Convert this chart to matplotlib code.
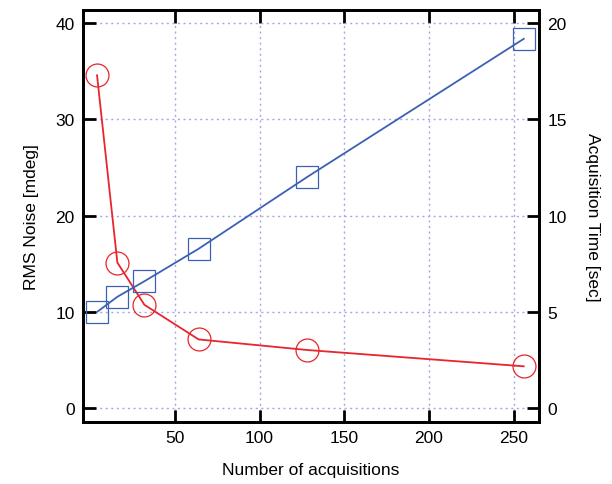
import numpy as np
import matplotlib.pyplot as plt

# Datos
acquisitions = [4, 16, 32, 64, 128, 256]
rms_noise = [34.6, 15.1, 10.7, 7.1, 6.0, 4.3]          # mdeg, eje izquierdo
acq_time = [4.98, 5.77, 6.58, 8.27, 12.0, 19.2]        # sec, eje derecho

plt.rcParams['font.family'] = ['Liberation Sans', 'DejaVu Sans']

red = '#e8242c'
blue = '#3d60b4'
grid_col = '#a8a8e0'

fig = plt.figure(figsize=(6.12, 4.85), dpi=100)
ax = fig.add_axes([0.1356, 0.1278, 0.7451, 0.8495])
ax2 = ax.twinx()

ax.plot(acquisitions, rms_noise, color=red, lw=1.3, marker='o', ms=16.5,
        mfc='none', mec=red, mew=0.9, zorder=3)
ax2.plot(acquisitions, acq_time, color=blue, lw=1.3, marker='s', ms=16.5,
         mfc='none', mec=blue, mew=0.9, zorder=3)

ax.set_xlim(-4.3, 265)
ax.set_ylim(-1.5, 41.4)
ax2.set_ylim(-0.75, 20.7)

ax.set_xticks([50, 100, 150, 200, 250])
ax.set_yticks([0, 10, 20, 30, 40])
ax2.set_yticks([0, 5, 10, 15, 20])

ax.grid(True, color=grid_col, ls=(0, (1.5, 2.5)), lw=1.0)
ax.set_axisbelow(True)

ax.tick_params(direction='in', length=9, width=2, top=True, labelsize=12.5, pad=6)
ax.tick_params(axis='y', left=True, right=False)
ax2.tick_params(direction='in', length=9, width=2, labelsize=12.5, pad=6)
for a in (ax, ax2):
    for s in a.spines.values():
        s.set_linewidth(2)

ax.set_xlabel('Number of acquisitions', fontsize=12.5, labelpad=12)
ax.set_ylabel('RMS Noise [mdeg]', fontsize=12.5, labelpad=12)
ax2.set_ylabel('Acquisition Time [sec]', fontsize=12.5, rotation=-90, labelpad=24)

plt.savefig('out.png', dpi=100)
